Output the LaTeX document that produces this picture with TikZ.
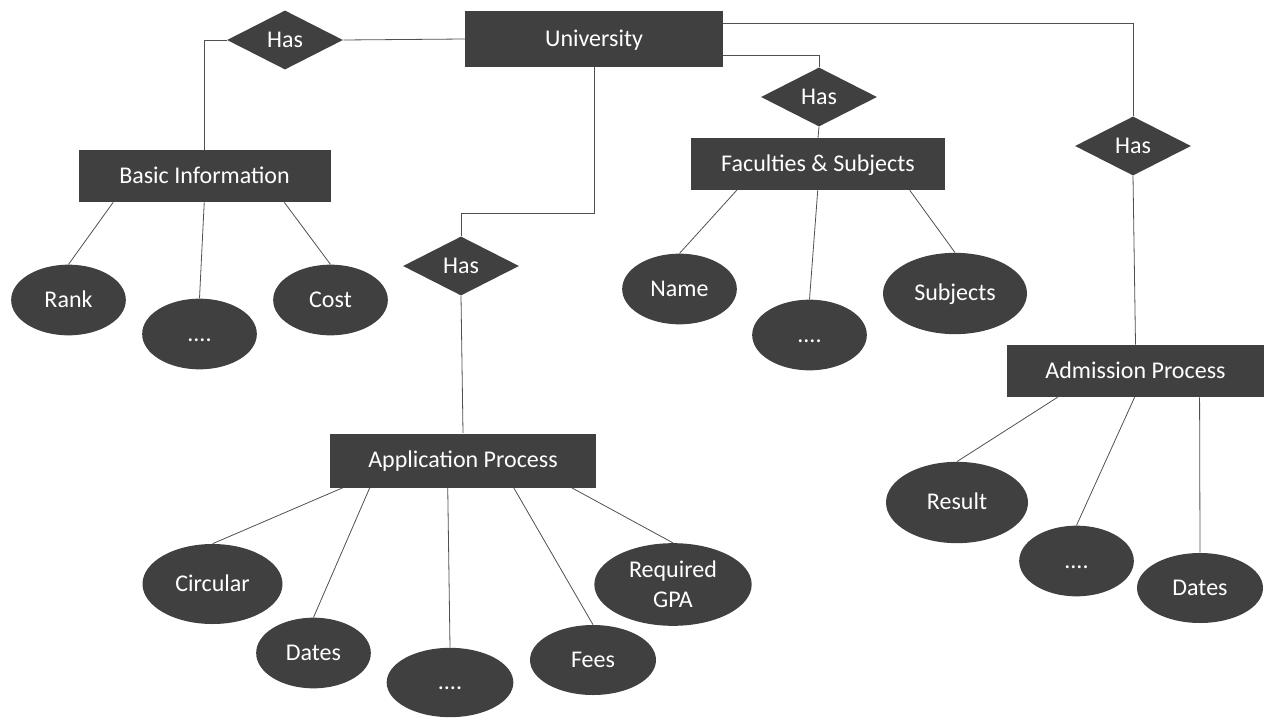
\documentclass[tikz,border=0pt]{standalone}
\usepackage{fontspec}
\setmainfont{Carlito}
\usetikzlibrary{shapes.geometric,calc}
\definecolor{boxgray}{HTML}{404040}
\definecolor{linegray}{HTML}{505050}

\begin{document}
\begin{tikzpicture}[x=0.75pt,y=-0.75pt,
  every node/.style={fill=boxgray,text=white,font=\fontsize{18}{22.5}\selectfont,
    inner sep=0pt,text height=14pt,text depth=3.4pt},
  entity/.style={rectangle,minimum height=39pt},
  rel/.style={diamond,minimum width=87pt,minimum height=43.5pt},
  attr/.style={ellipse,minimum width=86pt,minimum height=53pt},
  conn/.style={draw=linegray,line width=0.6pt}]
  \useasboundingbox (0,0) rectangle (1280,720);
  % entities
  \node[entity,minimum width=193pt,minimum height=42pt] (uni) at (594,39) {University};
  \node[entity,minimum width=189pt] (basic) at (204.5,176) {Basic Information};
  \node[entity,minimum width=190.5pt] (fac) at (818,164) {Faculties \& Subjects};
  \node[entity,minimum width=199.5pt,minimum height=40.5pt] (app) at (463,460.5) {Application Process};
  \node[entity,minimum width=193pt] (adm) at (1135.5,371) {Admission Process};
  % relations
  \node[rel] (has1) at (285,40) {Has};
  \node[rel] (has2) at (461,266) {Has};
  \node[rel] (has3) at (819,97) {Has};
  \node[rel] (has4) at (1133,146) {Has};
  % attributes
  \node[attr] (rank) at (68.5,300) {Rank};
  \node[attr] (bdots) at (199.5,334) {....};
  \node[attr] (cost) at (330.5,300) {Cost};
  \node[attr,minimum width=105pt,minimum height=60pt] (circ) at (212.5,584) {Circular};
  \node[attr] (adates) at (313.5,653) {Dates};
  \node[attr,minimum width=95pt,minimum height=52pt] (adots) at (450,682.5) {....};
  \node[attr,minimum width=94.5pt,minimum height=52.5pt] (fees) at (593,660) {Fees};
  \node[attr,minimum width=118pt,minimum height=62pt,align=center,
    text height={},text depth={}] (gpa) at (673,584.5) {Required\\GPA};
  \node[attr] (name) at (679.5,289) {Name};
  \node[attr] (fdots) at (809.5,335) {....};
  \node[attr,minimum width=108pt,minimum height=61pt] (subj) at (955,293.5) {Subjects};
  \node[attr,minimum width=106.5pt,minimum height=61pt] (res) at (957,502.5) {Result};
  \node[attr] (mdots) at (1076.5,561) {....};
  \node[attr,minimum width=94.5pt,minimum height=52.5pt] (mdates) at (1200,588) {Dates};
  % relationship lines
  \draw[conn] (uni.west) -- (has1.east);
  \draw[conn] (has1.west) -| (basic.north);
  \draw[conn] (uni.south) -- ++(0,146) -| (has2.north);
  \draw[conn] (has2.south) -- (app.north);
  \draw[conn] ($(uni.south east)+(0,-12)$) -| (has3.north);
  \draw[conn] (has3.south) -- (fac.north);
  \draw[conn] ($(uni.north east)+(0,13)$) -| (has4.north);
  \draw[conn] (has4.south) -- (adm.north);
  % attribute lines
  \foreach \dx/\a in {35/rank,126/bdots,206/cost}
    \draw[conn] ($(basic.south west)+(\dx,0)$) -- (\a.north);
  \foreach \dx/\a in {13/circ,40/adates,118/adots,184/fees,242/gpa}
    \draw[conn] ($(app.south west)+(\dx,0)$) -- (\a.north);
  \foreach \dx/\a in {46/name,127/fdots,219/subj}
    \draw[conn] ($(fac.south west)+(\dx,0)$) -- (\a.north);
  \foreach \dx/\a in {51/res,128/mdots,193/mdates}
    \draw[conn] ($(adm.south west)+(\dx,0)$) -- (\a.north);
\end{tikzpicture}
\end{document}
